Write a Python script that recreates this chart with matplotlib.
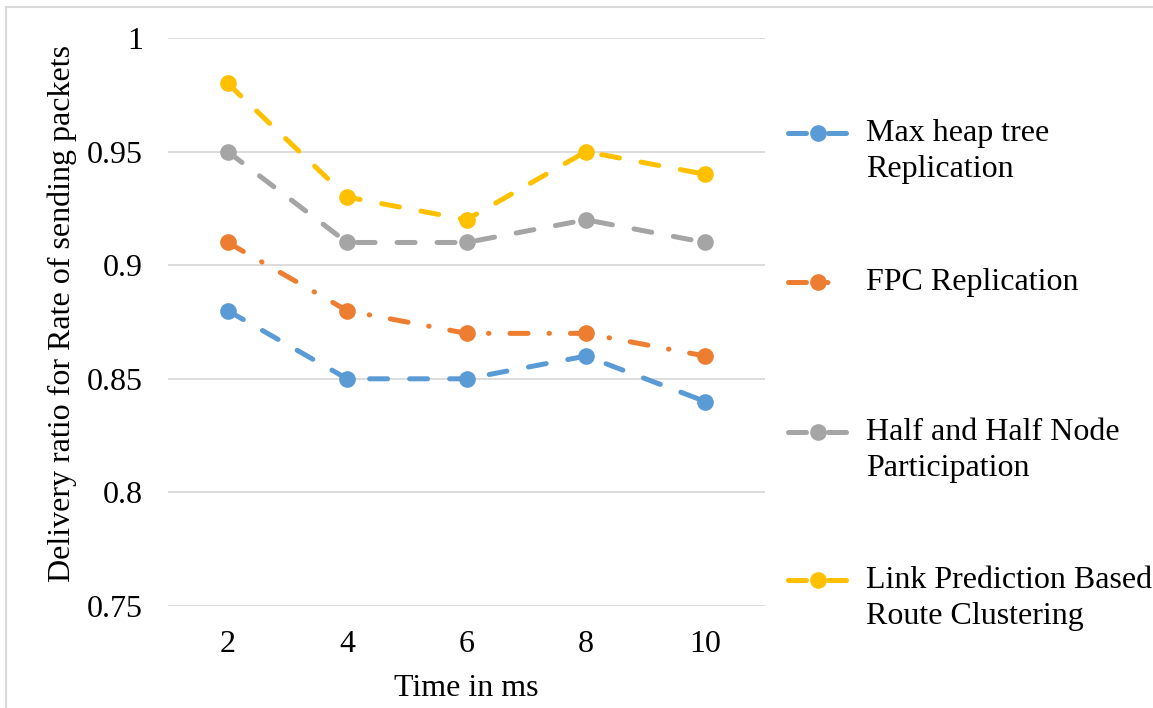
import matplotlib
matplotlib.use("Agg")
import matplotlib.pyplot as plt
from matplotlib.lines import Line2D
from matplotlib.patches import Rectangle

plt.rcParams["font.family"] = ["Liberation Serif", "DejaVu Serif"]

time_ms = [2, 4, 6, 8, 10]
max_heap = [0.88, 0.85, 0.85, 0.86, 0.84]
fpc = [0.91, 0.88, 0.87, 0.87, 0.86]
half_half = [0.95, 0.91, 0.91, 0.92, 0.91]
link_pred = [0.98, 0.93, 0.92, 0.95, 0.94]
y_ticks = [0.75, 0.8, 0.85, 0.9, 0.95, 1]
y_tick_labels = ["0.75", "0.8", "0.85", "0.9", "0.95", "1"]

labels = ["Max heap tree\nReplication", "FPC Replication",
          "Half and Half Node\nParticipation",
          "Link Prediction Based\nRoute Clustering"]
colors = ["#5B9BD5", "#ED7D31", "#A5A5A5", "#FFC000"]
dash = (3.6, 4.4)
dashdot = (3.6, 4.2, 0.1, 4.2)
styles = [dash, dashdot, dash, dash]
series = [max_heap, fpc, half_half, link_pred]

FS = 23
LW = 3.6
MS = 12

W, H = 1153, 708
fig = plt.figure(figsize=(W / 100, H / 100), dpi=100)

def fx(px):
    return px / W

def fy(py):
    return 1 - py / H

left, right, top, bottom = 168, 765, 38, 606
ax = fig.add_axes([fx(left), fy(bottom), fx(right) - fx(left), fy(top) - fy(bottom)])

for ys, c, st in zip(series, colors, styles):
    ax.plot(time_ms, ys, color=c, lw=LW, dashes=st, dash_capstyle="round",
            marker="o", markersize=MS, markeredgewidth=0, zorder=3)

ax.set_xlim(1, 11)
ax.set_ylim(0.75, 1.0)
ax.set_xticks(time_ms)
ax.set_xticklabels([str(t) for t in time_ms])
ax.set_yticks(y_ticks)
ax.set_yticklabels(y_tick_labels)
ax.tick_params(axis="both", length=0, labelsize=FS)
ax.tick_params(axis="y", pad=18)
ax.tick_params(axis="x", pad=17)
ax.grid(axis="y", color="#d9d9d9", lw=1.3)
ax.set_axisbelow(True)
for s in ax.spines.values():
    s.set_visible(False)

fig.text(fx(62), fy(313), "Delivery ratio for Rate of sending packets",
         rotation=90, ha="center", va="center", fontsize=FS)
fig.text(fx(466), fy(689), "Time in ms", ha="center", va="center", fontsize=FS)

# legend, drawn by hand to follow the Excel layout
leg_y = [133, 282, 432, 580]
for lab, c, st, yy in zip(labels, colors, styles, leg_y):
    fig.add_artist(Line2D([fx(788), fx(818), fx(848)], [fy(yy)] * 3,
                          color=c, lw=LW, dashes=st, dash_capstyle="round",
                          marker="o", markersize=MS, markeredgewidth=0,
                          markevery=[1]))
    fig.text(fx(866), fy(yy - 14), lab, ha="left", va="top", fontsize=FS,
             linespacing=1.3)

# chart border
fig.add_artist(Rectangle((fx(6), fy(720)), 1.1, fy(7) - fy(720),
                         fill=False, edgecolor="#d9d9d9", lw=1.5))

fig.savefig("out.png", dpi=100)
